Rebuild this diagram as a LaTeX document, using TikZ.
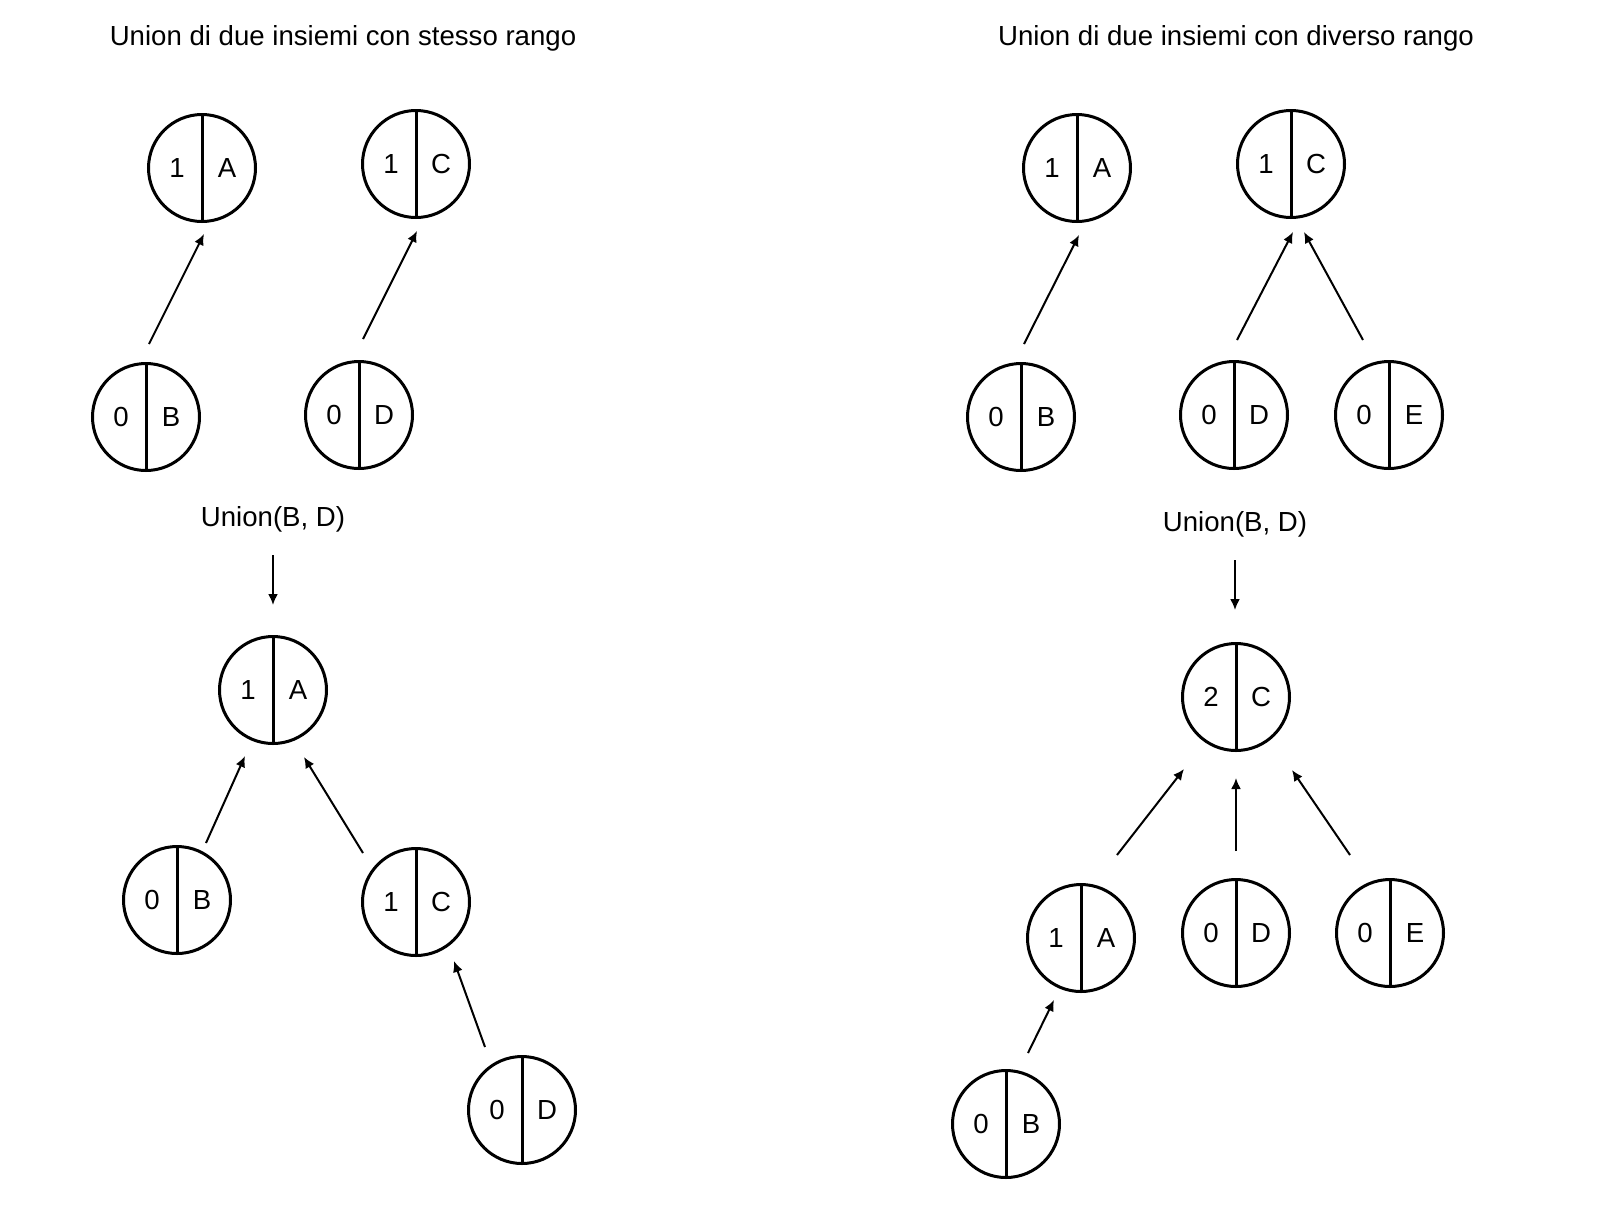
\documentclass[tikz,border=0pt]{standalone}
\usepackage{fontspec}
\setmainfont{Liberation Sans}
\usetikzlibrary{arrows.meta}
\tikzset{ufset/.style={circle,draw,line width=1.5pt,minimum size=53.5pt,inner sep=0pt,
           path picture={\draw[line width=1.5pt] (path picture bounding box.north) -- (path picture bounding box.south);}},
         toparent/.style={line width=1pt,-{Latex[length=5.5pt,width=5pt]}}}
\newcommand{\rankel}[2]{\makebox[25pt]{#1}\makebox[25pt]{#2}}

\begin{document}
\begin{tikzpicture}[x=0.5pt,y=-0.5pt,font=\fontsize{13.8pt}{16pt}\selectfont]
\useasboundingbox (0,0) rectangle (1608,1222);

% stesso rango
\node[anchor=base] (ltitle) at (343,45) {Union di due insiemi con stesso rango};
\node[ufset] (lA1) at (202,168) {\rankel{1}{A}};
\node[ufset] (lC1) at (416,164) {\rankel{1}{C}};
\node[ufset] (lB1) at (146,417) {\rankel{0}{B}};
\node[ufset] (lD1) at (359,415) {\rankel{0}{D}};
\node[anchor=base] (lU) at (273,526) {Union(B, D)};
\node[ufset] (lA2) at (273,690) {\rankel{1}{A}};
\node[ufset] (lB2) at (177,900) {\rankel{0}{B}};
\node[ufset] (lC2) at (416,902) {\rankel{1}{C}};
\node[ufset] (lD2) at (522,1110) {\rankel{0}{D}};

\draw[toparent] ([shift={(3,-73)}]lB1.center) -- ([shift={(2,66)}]lA1.center);
\draw[toparent] ([shift={(4,-76)}]lD1.center) -- ([shift={(1,67)}]lC1.center);
\draw[toparent] ([shift={(0,29)}]lU.base) -- ([shift={(0,-85)}]lA2.center);
\draw[toparent] ([shift={(29,-57)}]lB2.center) -- ([shift={(-28,66)}]lA2.center);
\draw[toparent] ([shift={(-53,-49)}]lC2.center) -- ([shift={(31,67)}]lA2.center);
\draw[toparent] ([shift={(-37,-63)}]lD2.center) -- ([shift={(38,59)}]lC2.center);

% diverso rango
\node[anchor=base] (rtitle) at (1236,45) {Union di due insiemi con diverso rango};
\node[ufset] (rA1) at (1077,168) {\rankel{1}{A}};
\node[ufset] (rC1) at (1291,164) {\rankel{1}{C}};
\node[ufset] (rB1) at (1021,417) {\rankel{0}{B}};
\node[ufset] (rD1) at (1234,415) {\rankel{0}{D}};
\node[ufset] (rE1) at (1389,415) {\rankel{0}{E}};
\node[anchor=base] (rU) at (1235,531) {Union(B, D)};
\node[ufset] (rC2) at (1236,697) {\rankel{2}{C}};
\node[ufset] (rA2) at (1081,938) {\rankel{1}{A}};
\node[ufset] (rD2) at (1236,933) {\rankel{0}{D}};
\node[ufset] (rE2) at (1390,933) {\rankel{0}{E}};
\node[ufset] (rB2) at (1006,1124) {\rankel{0}{B}};

\draw[toparent] ([shift={(3,-73)}]rB1.center) -- ([shift={(2,67)}]rA1.center);
\draw[toparent] ([shift={(3,-75)}]rD1.center) -- ([shift={(2,68)}]rC1.center);
\draw[toparent] ([shift={(-26,-75)}]rE1.center) -- ([shift={(13,68)}]rC1.center);
\draw[toparent] ([shift={(0,29)}]rU.base) -- ([shift={(-1,-87)}]rC2.center);
\draw[toparent] ([shift={(36,-83)}]rA2.center) -- ([shift={(-52,72)}]rC2.center);
\draw[toparent] ([shift={(0,-82)}]rD2.center) -- ([shift={(0,81)}]rC2.center);
\draw[toparent] ([shift={(-40,-78)}]rE2.center) -- ([shift={(56,73)}]rC2.center);
\draw[toparent] ([shift={(22,-71)}]rB2.center) -- ([shift={(-27,62)}]rA2.center);

\end{tikzpicture}
\end{document}
